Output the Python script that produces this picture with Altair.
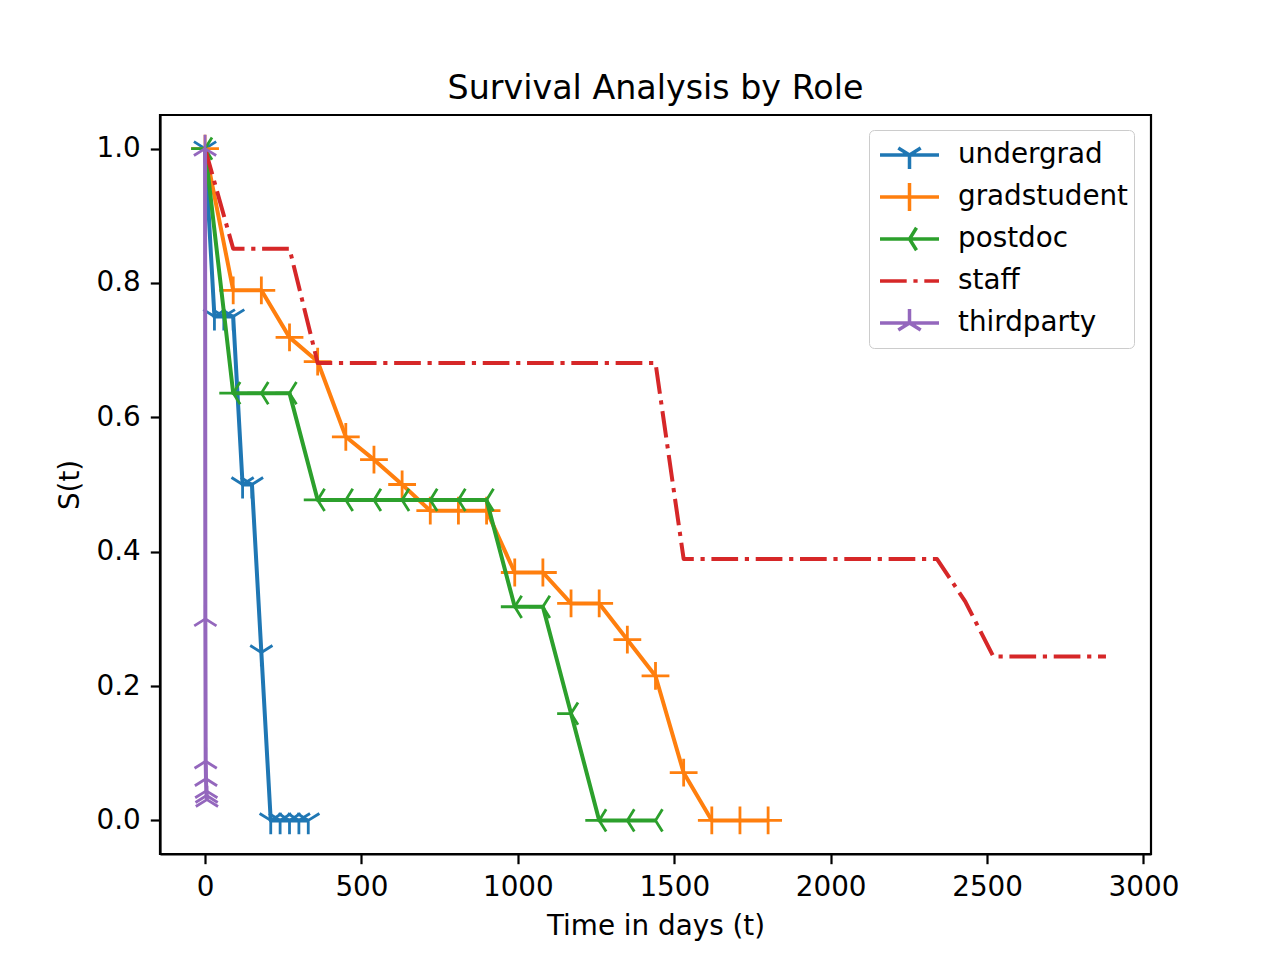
import altair as alt
import pandas as pd

roles = ["undergrad", "gradstudent", "postdoc", "staff", "thirdparty"]
colors = ["#1f77b4", "#ff7f0e", "#2ca02c", "#d62728", "#9467bd"]

undergrad_t = [0, 30, 60, 90, 120, 150, 180, 210, 240, 270, 300, 330]
undergrad_s = [1.0, 0.75, 0.75, 0.75, 0.5, 0.5, 0.25, 0.0, 0.0, 0.0, 0.0, 0.0]

gradstudent_t = [0, 90, 180, 270, 360, 450, 540, 630, 720, 810, 900, 990, 1080,
                 1170, 1260, 1350, 1440, 1530, 1620, 1710, 1800]
gradstudent_s = [1.0, 0.789, 0.789, 0.719, 0.683, 0.571, 0.537, 0.500, 0.461, 0.461,
                 0.461, 0.369, 0.369, 0.323, 0.323, 0.269, 0.215, 0.071, 0.0, 0.0, 0.0]

postdoc_t = [0, 90, 180, 270, 360, 450, 540, 630, 720, 810, 900, 990, 1080, 1170,
             1260, 1350, 1440]
postdoc_s = [1.0, 0.636, 0.636, 0.636, 0.477, 0.477, 0.477, 0.477, 0.477, 0.477,
             0.477, 0.318, 0.318, 0.159, 0.0, 0.0, 0.0]

staff_t = [0, 90, 180, 270, 360, 450, 540, 630, 720, 810, 900, 990, 1080, 1170,
           1260, 1350, 1440, 1530, 1620, 1710, 1800, 1890, 1980, 2070, 2160, 2250,
           2340, 2430, 2520, 2610, 2700, 2790, 2880]
staff_s = [1.0, 0.851, 0.851, 0.851, 0.681, 0.681, 0.681, 0.681, 0.681, 0.681,
           0.681, 0.681, 0.681, 0.681, 0.681, 0.681, 0.681, 0.389, 0.389, 0.389,
           0.389, 0.389, 0.389, 0.389, 0.389, 0.389, 0.389, 0.326, 0.244, 0.244,
           0.244, 0.244, 0.244]

thirdparty_t = [0, 1, 2, 3, 4, 5, 6]
thirdparty_s = [1.0, 0.30, 0.088, 0.062, 0.044, 0.037, 0.031]

x_ticks = [0, 500, 1000, 1500, 2000, 2500, 3000]
y_ticks = [0.0, 0.2, 0.4, 0.6, 0.8, 1.0]

series = {
    "undergrad": (undergrad_t, undergrad_s),
    "gradstudent": (gradstudent_t, gradstudent_s),
    "postdoc": (postdoc_t, postdoc_s),
    "staff": (staff_t, staff_s),
    "thirdparty": (thirdparty_t, thirdparty_s),
}
rows = []
for r in roles:
    ts, ss = series[r]
    for t, s in zip(ts, ss):
        rows.append({"role": r, "t": t, "s": s})
df = pd.DataFrame(rows)

# marker glyphs (matplotlib tri_down, plus, tri_left, none, tri_up)
marker_paths = {
    "undergrad": "M0,0V1M0,0L-0.8,-0.5M0,0L0.8,-0.5",
    "gradstudent": "M-1,0H1M0,-1V1",
    "postdoc": "M0,0H-1M0,0L0.5,-0.8M0,0L0.5,0.8",
    "thirdparty": "M0,0V-1M0,0L-0.8,0.5M0,0L0.8,0.5",
}
# legend glyphs: line sample + marker
legend_paths = [
    "M-0.714,0H3.5M1.393,0V1M1.393,0L0.593,-0.5M1.393,0L2.193,-0.5",
    "M-0.714,0H3.5M1.393,-1V1",
    "M-0.714,0H3.5M1.893,-0.8L1.393,0L1.893,0.8",
    "M-0.714,0H1.193M1.672,0H1.972M2.451,0H3.5",
    "M-0.714,0H3.5M1.393,0V-1M1.393,0L0.593,0.5M1.393,0L2.193,0.5",
]

FONT = "DejaVu Sans"

x_enc = alt.X("t:Q", scale=alt.Scale(domain=[-144, 3024], nice=False, zero=False),
              axis=alt.Axis(values=x_ticks, format="d", title="Time in days (t)",
                            titlePadding=11))
y_enc = alt.Y("s:Q", scale=alt.Scale(domain=[-0.05, 1.05], nice=False, zero=False),
              axis=alt.Axis(values=y_ticks, format=".1f", title="S(t)", titlePadding=12))

base = alt.Chart(df)
layers = []
for r, c in zip(roles, colors):
    sub = base.transform_filter(alt.datum.role == r)
    kw = dict(strokeWidth=4, strokeJoin="round", color=c)
    if r == "staff":
        kw["strokeDash"] = [26.7, 6.7, 4.2, 6.7]
    layers.append(sub.mark_line(**kw).encode(x=x_enc, y=y_enc))
    if r in marker_paths:
        layers.append(
            sub.mark_point(shape=marker_paths[r], size=773, filled=False,
                           strokeWidth=2.8, opacity=1, color=c)
            .encode(x=x_enc, y=y_enc)
        )

leg_props = dict(orient="none", legendX=709, legendY=15, title=None, padding=5,
                 strokeColor="#cccccc", fillColor="rgba(255,255,255,0.8)",
                 cornerRadius=5, labelFont=FONT, labelFontSize=27.8,
                 labelColor="black", labelOffset=52, labelLimit=0,
                 rowPadding=2, clipHeight=40,
                 symbolSize=784, symbolStrokeWidth=3.5, symbolOpacity=1)

legend_layer = base.transform_filter(alt.datum.t == 0).mark_point(
    filled=False, opacity=1, strokeWidth=3.5, size=0
).encode(
    x=x_enc, y=y_enc,
    stroke=alt.Stroke("role:N", scale=alt.Scale(domain=roles, range=colors),
                      legend=alt.Legend(**leg_props)),
    shape=alt.Shape("role:N", scale=alt.Scale(domain=roles, range=legend_paths),
                    legend=alt.Legend(**leg_props)),
)

chart = alt.layer(*layers, legend_layer).properties(
    width=991, height=739,
    autosize=alt.AutoSizeParams(type="none"),
    padding={"left": 152, "top": 107, "right": 100, "bottom": 90},
    title=alt.TitleParams("Survival Analysis by Role", fontSize=33.3, font=FONT,
                          fontWeight="normal", offset=9, color="black",
                          anchor="middle"),
).configure_view(
    stroke="black", strokeWidth=2.2
).configure_axis(
    labelFont=FONT, labelFontSize=27.8, labelColor="black",
    titleFont=FONT, titleFontSize=27.8, titleFontWeight="normal", titleColor="black",
    domainColor="black", domainWidth=2.2, tickColor="black", tickWidth=2.2,
    tickSize=9.7, labelPadding=10, grid=False,
)

chart.save("out.html", embed_options={"renderer": "svg", "actions": False})
